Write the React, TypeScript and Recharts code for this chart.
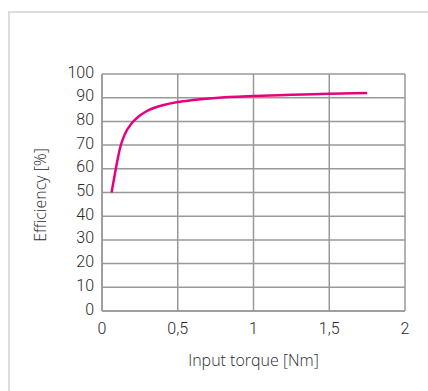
import React from 'react';
import { LineChart, Line, XAxis, YAxis, CartesianGrid, Label } from 'recharts';

// values
const torque = [0.063, 0.08, 0.1, 0.12, 0.15, 0.2, 0.25, 0.3, 0.4, 0.5, 0.6, 0.75, 1, 1.25, 1.5, 1.75];
const efficiency = [50, 56, 63, 69, 74.5, 79.5, 82.5, 84.5, 86.8, 88.2, 89, 89.9, 90.7, 91.2, 91.7, 92];

const xTicks = [0, 0.5, 1, 1.5, 2];
const yTicks = [0, 10, 20, 30, 40, 50, 60, 70, 80, 90, 100];

const data = torque.map((t, i) => ({ t, eff: efficiency[i] }));

const FONT = 'Roboto, sans-serif';
const LABEL_FONT = "'Open Sans', sans-serif";

const YTick = (props: any) => {
  const { x, y, payload } = props;
  return (
    <text x={x} y={y - 2} textAnchor="end" dominantBaseline="central" fontFamily={FONT} fontWeight={300} fontSize={16} fill="#2a2a2a">
      {payload.value}
    </text>
  );
};

const XTick = (props: any) => {
  const { x, y, payload } = props;
  return (
    <text x={x} y={y + 9} textAnchor="middle" dominantBaseline="central" fontFamily={FONT} fontWeight={300} fontSize={16} fill="#2a2a2a">
      {String(payload.value).replace('.', ',')}
    </text>
  );
};

export default function App() {
  return (
    <div style={{ position: 'absolute', left: 0, top: 0, width: 428, height: 391, background: '#fff', overflow: 'hidden' }}>
      <div style={{ position: 'absolute', left: 8, top: 11, right: -10, bottom: -10, borderTop: '2px solid #ddd', borderLeft: '2px solid #ddd' }} />
      <LineChart width={428} height={391} data={data} margin={{ top: 74, right: 23, left: 0, bottom: 0 }} style={{ position: 'absolute', left: 0, top: 0 }}>
        <CartesianGrid stroke="#999" strokeWidth={1.5} />
        <XAxis
          dataKey="t"
          type="number"
          domain={[0, 2]}
          ticks={xTicks}
          height={80}
          tickLine={false}
          axisLine={{ stroke: '#999', strokeWidth: 1.5 }}
          tick={<XTick />}
        >
          <Label
            content={(p: any) => {
              const vb = p.viewBox;
              return (
                <text x={vb.x + vb.width / 2} y={360} textAnchor="middle" dominantBaseline="central" fontFamily={LABEL_FONT} fontWeight={300} fontSize={16} fill="#2a2a2a">
                  Input torque [Nm]
                </text>
              );
            }}
          />
        </XAxis>
        <YAxis
          type="number"
          domain={[0, 100]}
          ticks={yTicks}
          width={102}
          tickLine={false}
          axisLine={{ stroke: '#999', strokeWidth: 1.5 }}
          tick={<YTick />}
        >
          <Label
            content={() => {
              const cx = 40;
              const cy = 195;
              return (
                <text x={cx} y={cy} transform={`rotate(-90, ${cx}, ${cy})`} textAnchor="middle" dominantBaseline="central" fontFamily={LABEL_FONT} fontWeight={300} fontSize={16} fill="#2a2a2a">
                  Efficiency [%]
                </text>
              );
            }}
          />
        </YAxis>
        <Line type="monotone" dataKey="eff" stroke="#e6007e" strokeWidth={2.5} dot={false} isAnimationActive={false} />
      </LineChart>
    </div>
  );
}
